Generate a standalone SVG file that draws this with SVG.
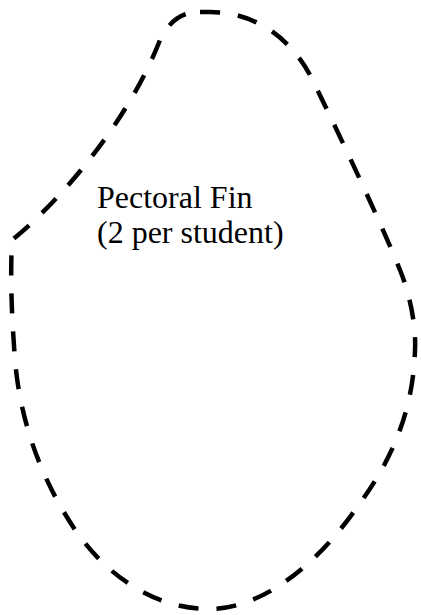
<svg xmlns="http://www.w3.org/2000/svg" width="421" height="615" viewBox="0 0 421 615">
<style>
.outline{fill:none;stroke:#000;stroke-width:4.5;stroke-dasharray:20 18}
.lbl{font-family:"Liberation Serif","Times New Roman",serif;font-size:32px;fill:#000}
</style>
<rect width="421" height="615" fill="#fff"/>
<g id="fin">
<path class="outline" d="M 200 12 L 210 12 C 255 12 290 38 310 75 C 330 115 380 220 400 270 C 412 300 416 330 415 350 C 413 420 385 470 355 510 C 320 560 265 609 209 609 C 150 609 100 570 70 522 C 40 475 20 420 15 360 C 12 320 10 280 12 240 C 50 210 125 130 160 40 C 170 20 182 12 200 12 Z"/>
</g>
<g id="label">
<text class="lbl" x="97" y="208">Pectoral Fin</text>
<text class="lbl" x="97" y="243">(2 per student)</text>
</g>
</svg>
